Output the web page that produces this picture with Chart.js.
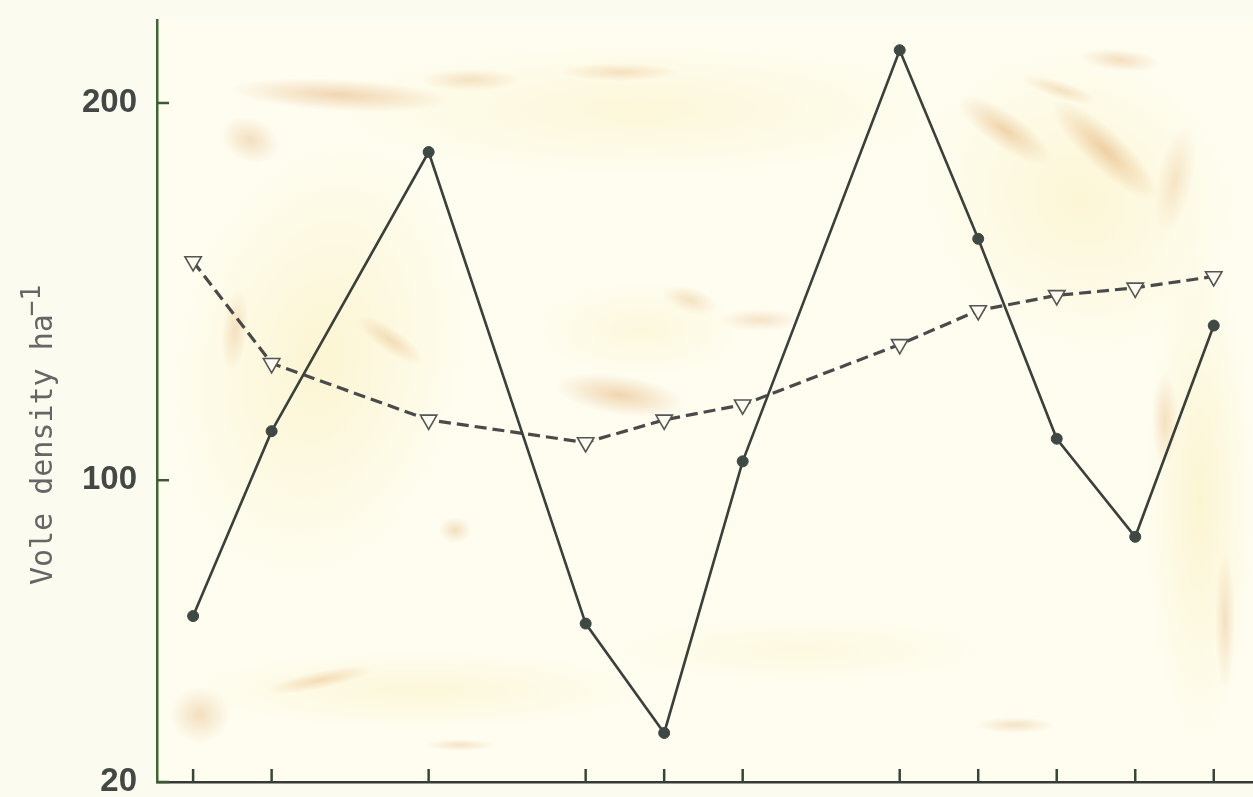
<!DOCTYPE html>
<html>
<head>
<meta charset="utf-8">
<script src="https://cdn.jsdelivr.net/npm/chart.js@4.4.1/dist/chart.umd.min.js"></script>
<style>
  html, body { margin: 0; padding: 0; background: #fbfbef; }
  #wrap { width: 1253px; height: 797px; position: relative; }
</style>
</head>
<body>
<div id="wrap"><canvas id="c" width="1253" height="797"></canvas></div>
<script>
// ---- data ----
const xPositions   = [0, 1, 3, 5, 6, 7, 9, 10, 11, 12, 13];
const solidValues  = [64, 113, 187, 62, 33, 105, 214, 164, 111, 85, 141];
const dashedValues = [158, 131, 116, 110, 116, 120, 136, 145, 149, 151, 154];
const yTickValues  = [20, 100, 200];
const yTitleMain   = 'Vole density ha';
const yTitleSup    = '\u22121';

const solidData  = xPositions.map((x, i) => ({ x: x, y: solidValues[i] }));
const dashedData = xPositions.map((x, i) => ({ x: x, y: dashedValues[i] }));

// background paper stains (decorative)
const paperPlugin = {
  id: 'paper',
  beforeDraw(chart) {
    const ctx = chart.ctx, a = chart.chartArea;
    ctx.save();
    ctx.fillStyle = '#fbfbef';
    ctx.fillRect(0, 0, chart.width, chart.height);
    ctx.fillStyle = '#fefdf0';
    ctx.fillRect(a.left, a.top, a.right - a.left, a.bottom - a.top);
    function blob(x, y, rx, ry, rot, rgb, alpha) {
      ctx.save();
      ctx.translate(x, y);
      ctx.rotate(rot);
      ctx.scale(rx, ry);
      const g = ctx.createRadialGradient(0, 0, 0, 0, 0, 1);
      g.addColorStop(0, 'rgba(' + rgb + ',' + alpha + ')');
      g.addColorStop(1, 'rgba(' + rgb + ',0)');
      ctx.fillStyle = g;
      ctx.beginPath();
      ctx.arc(0, 0, 1, 0, Math.PI * 2);
      ctx.fill();
      ctx.restore();
    }
    const Y = '250,236,175', T = '225,165,100';
    // yellow washes
    blob(320, 360, 150, 230, 0.2, Y, 0.45);
    blob(640, 110, 320, 70, 0, Y, 0.35);
    blob(1080, 200, 170, 150, 0.6, Y, 0.4);
    blob(1200, 500, 55, 250, 0, Y, 0.45);
    blob(420, 690, 240, 40, 0, Y, 0.35);
    blob(800, 650, 200, 35, 0, Y, 0.25);
    blob(640, 330, 110, 50, 0, Y, 0.3);
    // tan stains
    blob(340, 95, 110, 16, 0.05, T, 0.45);
    blob(250, 140, 30, 22, 0.4, T, 0.35);
    blob(470, 80, 50, 11, 0, T, 0.3);
    blob(620, 72, 60, 9, 0, T, 0.3);
    blob(1005, 130, 55, 18, 0.6, T, 0.45);
    blob(1105, 150, 70, 20, 0.75, T, 0.5);
    blob(1120, 60, 40, 11, 0.1, T, 0.35);
    blob(1060, 90, 40, 9, 0.3, T, 0.3);
    blob(620, 395, 65, 20, 0.15, T, 0.45);
    blob(690, 300, 28, 13, 0.3, T, 0.3);
    blob(760, 320, 40, 11, 0, T, 0.3);
    blob(390, 340, 40, 12, 0.6, T, 0.35);
    blob(235, 330, 13, 42, 0.1, T, 0.3);
    blob(455, 530, 16, 13, 0, T, 0.35);
    blob(200, 715, 30, 28, 0, T, 0.35);
    blob(320, 680, 55, 9, -0.2, T, 0.35);
    blob(460, 745, 35, 6, 0, T, 0.3);
    blob(1015, 725, 40, 8, 0, T, 0.3);
    blob(1165, 420, 13, 48, 0, T, 0.3);
    blob(1225, 620, 10, 70, 0, T, 0.3);
    blob(1175, 180, 18, 55, 0.2, T, 0.25);
    ctx.restore();
  }
};

// inward tick marks and y title
const decorPlugin = {
  id: 'decor',
  afterDraw(chart) {
    const ctx = chart.ctx;
    const xs = chart.scales.x, ys = chart.scales.y;
    ctx.save();
    ctx.lineWidth = 2.5;
    ctx.strokeStyle = '#3b5a33';
    ys.ticks.forEach(t => {
      const py = ys.getPixelForValue(t.value);
      ctx.beginPath();
      ctx.moveTo(ys.right, py);
      ctx.lineTo(ys.right + 12, py);
      ctx.stroke();
    });
    ctx.strokeStyle = '#34483a';
    xs.ticks.forEach(t => {
      const px = xs.getPixelForValue(t.value);
      ctx.beginPath();
      ctx.moveTo(px, xs.top);
      ctx.lineTo(px, xs.top - 13);
      ctx.stroke();
    });
    // y title
    ctx.translate(52, 434);
    ctx.rotate(-Math.PI / 2);
    ctx.fillStyle = '#666666';
    ctx.textBaseline = 'alphabetic';
    const mainFont = '30px "DejaVu Sans Mono"';
    const supFont = '26px "DejaVu Sans Mono"';
    ctx.font = mainFont;
    const w1 = ctx.measureText(yTitleMain).width;
    ctx.font = supFont;
    const w2 = ctx.measureText(yTitleSup).width;
    const start = -(w1 + w2) / 2;
    ctx.font = mainFont;
    ctx.textAlign = 'left';
    ctx.fillText(yTitleMain, start, 0);
    ctx.font = supFont;
    ctx.fillText(yTitleSup, start + w1 - 2, -12);
    ctx.restore();
  }
};

new Chart(document.getElementById('c'), {
  type: 'scatter',
  data: {
    datasets: [
      {
        label: 'solid',
        data: solidData,
        showLine: true,
        borderColor: '#3a413b',
        borderWidth: 2.6,
        pointRadius: 5.5,
        pointBackgroundColor: '#3f4944',
        pointBorderColor: '#3f4944',
        pointBorderWidth: 1,
        tension: 0
      },
      {
        label: 'dashed',
        data: dashedData,
        showLine: true,
        borderColor: '#4a4a4a',
        borderWidth: 3.2,
        borderDash: [12, 6],
        pointStyle: 'triangle',
        rotation: 180,
        pointRadius: 9.5,
        pointBackgroundColor: '#fdfcf0',
        pointBorderColor: '#555',
        pointBorderWidth: 1.6,
        tension: 0
      }
    ]
  },
  options: {
    responsive: false,
    animation: false,
    layout: { autoPadding: false, padding: { top: 20, left: 0, right: 0, bottom: 0 } },
    plugins: { legend: { display: false }, tooltip: { enabled: false } },
    scales: {
      x: {
        type: 'linear',
        min: -0.46,
        max: 13.5,
        afterBuildTicks(s) { s.ticks = xPositions.map(v => ({ value: v })); },
        afterFit(s) { s.height = 15; s.paddingLeft = 0; s.paddingRight = 0; },
        ticks: { display: false },
        grid: { display: false },
        border: { display: true, color: '#363a36', width: 2.5 }
      },
      y: {
        type: 'linear',
        min: 20,
        max: 222,
        afterBuildTicks(s) { s.ticks = yTickValues.map(v => ({ value: v })); },
        afterFit(s) { s.width = 157; s.paddingTop = 0; s.paddingBottom = 0; },
        ticks: {
          padding: 20,
          color: '#444844',
          font: { family: '"Liberation Sans", Arial, sans-serif', size: 33, weight: 'bold', lineHeight: 1.2 }
        },
        grid: { display: false, drawTicks: false },
        border: { display: true, color: '#3b6a30', width: 2.5 }
      }
    }
  },
  plugins: [paperPlugin, decorPlugin]
});
</script>
</body>
</html>
